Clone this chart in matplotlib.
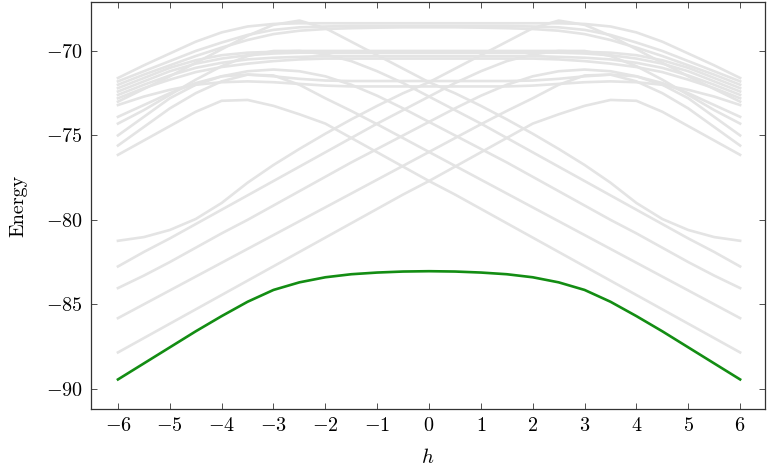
import matplotlib
matplotlib.use("Agg")
import matplotlib.pyplot as plt

plt.rcParams['mathtext.fontset'] = 'cm'
plt.rcParams['font.family'] = 'serif'
plt.rcParams['font.serif'] = ['cmr10']
plt.rcParams['axes.formatter.use_mathtext'] = True
plt.rcParams['axes.unicode_minus'] = True

H = [-6, -5.5, -5, -4.5, -4, -3.5, -3, -2.5, -2, -1.5, -1, -0.5, 0,
     0.5, 1, 1.5, 2, 2.5, 3, 3.5, 4, 4.5, 5, 5.5, 6]

ground = [-89.45, -88.5, -87.55, -86.6, -85.7, -84.85, -84.15, -83.7, -83.4, -83.22, -83.12, -83.06, -83.04,
          -83.06, -83.12, -83.22, -83.4, -83.7, -84.15, -84.85, -85.7, -86.6, -87.55, -88.5, -89.45]

# rising levels
rise_a = [-87.85, -87.0, -86.15, -85.3, -84.45, -83.6, -82.75, -81.9, -81.05, -80.2, -79.35, -78.5, -77.7,
          -76.85, -76.0, -75.15, -74.3, -73.75, -73.25, -72.9, -72.95, -73.6, -74.45, -75.3, -76.15]
rise_b = [-85.82, -85.0, -84.18, -83.36, -82.54, -81.72, -80.9, -80.08, -79.26, -78.44, -77.62, -76.8, -75.98,
          -75.16, -74.34, -73.55, -72.8, -72.0, -71.45, -71.4, -71.8, -72.5, -73.4, -74.5, -75.6]
rise_c = [-84.04, -83.3, -82.5, -81.65, -80.8, -80.0, -79.15, -78.3, -77.45, -76.6, -75.8, -75.0, -74.2,
          -73.4, -72.65, -72.0, -71.5, -71.2, -71.1, -71.2, -71.5, -72.0, -72.8, -73.9, -75.0]
rise_d = [-82.76, -81.9, -81.1, -80.25, -79.4, -78.55, -77.7, -76.85, -76.0, -75.15, -74.3, -73.5, -72.7,
          -71.9, -71.2, -70.6, -70.2, -70.0, -70.0, -70.3, -70.9, -71.7, -72.6, -73.5, -74.3]
rise_e = [-81.24, -81.02, -80.6, -79.95, -79.0, -77.8, -76.75, -75.8, -74.9, -74.05, -73.25, -72.5, -71.85,
          -71.05, -70.25, -69.45, -68.65, -68.2, -68.45, -69.1, -69.9, -70.7, -71.5, -72.25, -73.0]

# falling levels
fall_a = [-76.15, -75.3, -74.45, -73.6, -72.95, -72.9, -73.25, -73.75, -74.3, -75.15, -76.0, -76.85, -77.7,
          -78.5, -79.35, -80.2, -81.05, -81.9, -82.75, -83.6, -84.45, -85.3, -86.15, -87.0, -87.85]
fall_b = [-75.6, -74.5, -73.4, -72.5, -71.8, -71.4, -71.45, -72.0, -72.8, -73.55, -74.34, -75.16, -75.98,
          -76.8, -77.62, -78.44, -79.26, -80.08, -80.9, -81.72, -82.54, -83.36, -84.18, -85.0, -85.82]
fall_c = [-75.0, -73.9, -72.8, -72.0, -71.5, -71.2, -71.1, -71.2, -71.5, -72.0, -72.65, -73.4, -74.2,
          -75.0, -75.8, -76.6, -77.45, -78.3, -79.15, -80.0, -80.8, -81.65, -82.5, -83.3, -84.04]
fall_d = [-74.3, -73.5, -72.6, -71.7, -70.9, -70.3, -70.0, -70.0, -70.2, -70.6, -71.2, -71.9, -72.7,
          -73.5, -74.3, -75.15, -76.0, -76.85, -77.7, -78.55, -79.4, -80.25, -81.1, -81.9, -82.76]
fall_e = [-73.0, -72.25, -71.5, -70.7, -69.9, -69.1, -68.45, -68.2, -68.65, -69.45, -70.25, -71.05, -71.85,
          -72.5, -73.25, -74.05, -74.9, -75.8, -76.75, -77.8, -79.0, -79.95, -80.6, -81.02, -81.24]

# symmetric upper levels
top_1 = [-71.6, -70.85, -70.15, -69.45, -68.9, -68.55, -68.4, -68.36, -68.36, -68.36, -68.36, -68.36, -68.36,
         -68.36, -68.36, -68.36, -68.36, -68.36, -68.4, -68.55, -68.9, -69.45, -70.15, -70.85, -71.6]
top_2 = [-71.8, -71.2, -70.6, -70.0, -69.5, -69.05, -68.75, -68.6, -68.55, -68.52, -68.52, -68.52, -68.52,
         -68.52, -68.52, -68.52, -68.55, -68.6, -68.75, -69.05, -69.5, -70.0, -70.6, -71.2, -71.8]
top_3 = [-72.0, -71.4, -70.85, -70.3, -69.8, -69.35, -69.0, -68.8, -68.7, -68.65, -68.62, -68.6, -68.6,
         -68.6, -68.62, -68.65, -68.7, -68.8, -69.0, -69.35, -69.8, -70.3, -70.85, -71.4, -72.0]
mid_1 = [-72.2, -71.6, -71.0, -70.55, -70.25, -70.1, -70.05, -70.0, -70.0, -70.0, -70.0, -70.0, -70.0,
         -70.0, -70.0, -70.0, -70.0, -70.0, -70.05, -70.1, -70.25, -70.55, -71.0, -71.6, -72.2]
mid_2 = [-72.4, -71.8, -71.2, -70.75, -70.45, -70.25, -70.15, -70.1, -70.1, -70.1, -70.1, -70.1, -70.1,
         -70.1, -70.1, -70.1, -70.1, -70.1, -70.15, -70.25, -70.45, -70.75, -71.2, -71.8, -72.4]
mid_3 = [-72.6, -72.0, -71.45, -71.0, -70.7, -70.5, -70.4, -70.35, -70.3, -70.3, -70.3, -70.3, -70.3,
         -70.3, -70.3, -70.3, -70.3, -70.35, -70.4, -70.5, -70.7, -71.0, -71.45, -72.0, -72.6]
mid_4 = [-72.8, -72.2, -71.7, -71.25, -70.95, -70.75, -70.6, -70.5, -70.45, -70.45, -70.45, -70.45, -70.45,
         -70.45, -70.45, -70.45, -70.45, -70.5, -70.6, -70.75, -70.95, -71.25, -71.7, -72.2, -72.8]
low_1 = [-73.9, -73.2, -72.5, -71.9, -71.5, -71.4, -71.5, -71.65, -71.75, -71.78, -71.78, -71.78, -71.78,
         -71.78, -71.78, -71.78, -71.75, -71.65, -71.5, -71.4, -71.5, -71.9, -72.5, -73.2, -73.9]
low_2 = [-73.2, -72.7, -72.3, -72.0, -71.85, -71.8, -71.85, -71.95, -72.05, -72.1, -72.1, -72.1, -72.1,
         -72.1, -72.1, -72.1, -72.05, -71.95, -71.85, -71.8, -71.85, -72.0, -72.3, -72.7, -73.2]

gray_levels = [rise_a, rise_b, rise_c, rise_d, rise_e,
               fall_a, fall_b, fall_c, fall_d, fall_e,
               top_1, top_2, top_3, mid_1, mid_2, mid_3, mid_4, low_1, low_2]

x_ticks = [-6, -5, -4, -3, -2, -1, 0, 1, 2, 3, 4, 5, 6]
y_ticks = [-90, -85, -80, -75, -70]

fig = plt.figure(figsize=(7.67, 4.73), dpi=100)
ax = fig.add_axes([91/767, 1 - 409/473, (765-91)/767, (409-2)/473])

for lv in gray_levels:
    ax.plot(H, lv, color='#e4e4e4', lw=1.9, solid_joinstyle='round', zorder=1)
ax.plot(H, ground, color='#138d13', lw=1.9, solid_joinstyle='round', zorder=3)

ax.set_xlim(-6.52, 6.48)
ax.set_ylim(-91.2, -67.1)
ax.set_xticks(x_ticks)
ax.set_yticks(y_ticks)
ax.tick_params(direction='in', top=True, right=True, length=4.5, width=0.6,
               labelsize=14.5, color='#333333', pad=6)
for s in ax.spines.values():
    s.set_linewidth(0.9)
    s.set_color('#333333')
ax.set_xlabel('$h$', fontsize=15, labelpad=9)
ax.set_ylabel('Energy', fontsize=14.5, labelpad=13)

fig.savefig('out.png', dpi=100)
